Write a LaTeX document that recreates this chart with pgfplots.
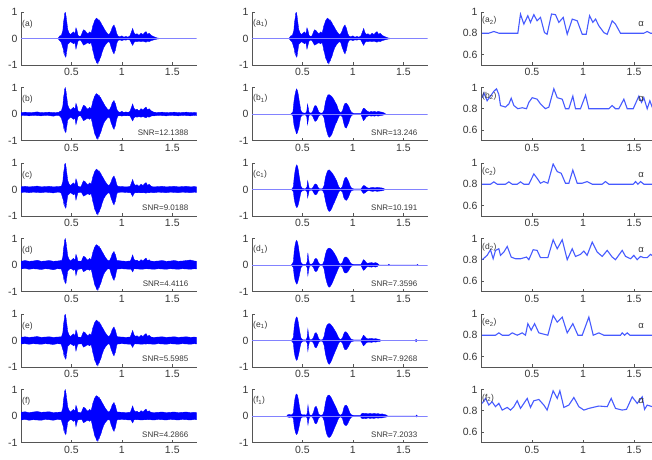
\documentclass[border=0pt]{standalone}
\usepackage{fontspec}
\setmainfont{Liberation Sans}
\usepackage{pgfplots}
\pgfplotsset{compat=1.18}
\usepackage{pgfplotstable}
\usepgfplotslibrary{fillbetween}

\definecolor{sig}{RGB}{0,0,255}
\definecolor{base}{RGB}{130,130,255}
\definecolor{acol}{RGB}{70,90,255}
\definecolor{axc}{RGB}{85,85,85}
\definecolor{txc}{RGB}{55,55,55}

% clean speech envelope (x, upper, lower)
\pgfplotstableread{
x u l
0.370 0.02 -0.02
0.385 0.10 -0.08
0.400 0.12 -0.15
0.415 0.30 -0.35
0.420 0.55 -0.40
0.425 0.70 -0.55
0.430 0.80 -0.50
0.433 0.95 -0.62
0.437 0.90 -0.66
0.440 0.99 -0.70
0.444 0.88 -0.62
0.447 0.85 -0.66
0.451 0.70 -0.52
0.455 0.60 -0.45
0.463 0.35 -0.22
0.475 0.22 -0.18
0.490 0.15 -0.12
0.505 0.20 -0.15
0.520 0.25 -0.20
0.535 0.18 -0.15
0.545 0.40 -0.40
0.555 0.30 -0.25
0.565 0.12 -0.10
0.580 0.08 -0.06
0.595 0.10 -0.08
0.610 0.25 -0.18
0.620 0.33 -0.25
0.635 0.30 -0.22
0.650 0.22 -0.18
0.665 0.18 -0.16
0.680 0.25 -0.20
0.695 0.20 -0.15
0.705 0.35 -0.30
0.712 0.48 -0.45
0.720 0.55 -0.55
0.728 0.66 -0.70
0.735 0.70 -0.78
0.742 0.74 -0.82
0.750 0.77 -0.92
0.756 0.72 -0.88
0.762 0.74 -0.96
0.768 0.68 -0.86
0.775 0.70 -0.85
0.782 0.64 -0.76
0.790 0.62 -0.70
0.797 0.55 -0.62
0.805 0.50 -0.50
0.812 0.46 -0.44
0.820 0.40 -0.35
0.835 0.30 -0.25
0.850 0.22 -0.18
0.865 0.15 -0.12
0.880 0.18 -0.15
0.895 0.30 -0.35
0.903 0.40 -0.42
0.910 0.45 -0.50
0.922 0.51 -0.58
0.928 0.44 -0.50
0.935 0.40 -0.45
0.948 0.20 -0.20
0.960 0.10 -0.08
0.980 0.06 -0.05
1.000 0.10 -0.08
1.020 0.05 -0.05
1.040 0.08 -0.06
1.060 0.05 -0.04
1.080 0.10 -0.06
1.095 0.25 -0.18
1.107 0.38 -0.26
1.120 0.22 -0.15
1.135 0.15 -0.10
1.150 0.18 -0.12
1.170 0.12 -0.10
1.190 0.20 -0.12
1.210 0.15 -0.10
1.225 0.22 -0.12
1.240 0.26 -0.14
1.255 0.15 -0.10
1.270 0.20 -0.12
1.290 0.12 -0.08
1.310 0.08 -0.06
1.330 0.05 -0.04
1.350 0.02 -0.02
1.370 0.01 -0.01
}\cl

% noise bands
\pgfplotstableread{
x u l
0.00 0.05 -0.06
0.04 0.07 -0.05
0.08 0.05 -0.07
0.12 0.06 -0.05
0.16 0.08 -0.06
0.20 0.05 -0.07
0.24 0.06 -0.05
0.28 0.07 -0.06
0.32 0.05 -0.08
0.36 0.06 -0.05
0.40 0.07 -0.06
0.44 0.06 -0.07
0.48 0.05 -0.05
0.52 0.07 -0.06
0.56 0.06 -0.07
0.60 0.05 -0.05
0.64 0.07 -0.06
0.68 0.06 -0.07
0.72 0.08 -0.06
0.76 0.06 -0.05
0.80 0.05 -0.07
0.84 0.07 -0.06
0.88 0.06 -0.05
0.92 0.05 -0.07
0.96 0.07 -0.06
1.00 0.06 -0.05
1.04 0.05 -0.06
1.08 0.06 -0.07
1.12 0.08 -0.05
1.16 0.06 -0.06
1.20 0.05 -0.07
1.24 0.07 -0.05
1.28 0.06 -0.06
1.32 0.05 -0.07
1.36 0.06 -0.05
1.40 0.07 -0.06
1.44 0.05 -0.07
1.48 0.06 -0.05
1.52 0.07 -0.06
1.56 0.05 -0.07
1.60 0.06 -0.05
1.64 0.07 -0.06
1.68 0.05 -0.07
1.72 0.06 -0.05
1.74 0.05 -0.06
}\nb
\pgfplotstableread{
x u l
0.00 0.10 -0.11
0.04 0.12 -0.10
0.08 0.10 -0.12
0.12 0.11 -0.10
0.16 0.13 -0.11
0.20 0.10 -0.12
0.24 0.11 -0.10
0.28 0.12 -0.11
0.32 0.10 -0.13
0.36 0.11 -0.10
0.40 0.12 -0.11
0.44 0.11 -0.12
0.48 0.10 -0.10
0.52 0.12 -0.11
0.56 0.11 -0.12
0.60 0.10 -0.10
0.64 0.12 -0.11
0.68 0.11 -0.12
0.72 0.13 -0.11
0.76 0.11 -0.10
0.80 0.10 -0.12
0.84 0.12 -0.11
0.88 0.11 -0.10
0.92 0.10 -0.12
0.96 0.12 -0.11
1.00 0.11 -0.10
1.04 0.10 -0.11
1.08 0.11 -0.12
1.12 0.13 -0.10
1.16 0.11 -0.11
1.20 0.10 -0.12
1.24 0.12 -0.10
1.28 0.11 -0.11
1.32 0.10 -0.12
1.36 0.11 -0.10
1.40 0.12 -0.11
1.44 0.10 -0.12
1.48 0.11 -0.10
1.52 0.12 -0.11
1.56 0.10 -0.12
1.60 0.11 -0.10
1.64 0.12 -0.11
1.68 0.10 -0.12
1.72 0.11 -0.10
1.74 0.10 -0.11
}\nc
\pgfplotstableread{
x u l
0.00 0.14 -0.15
0.04 0.17 -0.13
0.08 0.14 -0.16
0.12 0.15 -0.14
0.16 0.18 -0.15
0.20 0.14 -0.17
0.24 0.15 -0.14
0.28 0.17 -0.15
0.32 0.14 -0.18
0.36 0.15 -0.14
0.40 0.17 -0.15
0.44 0.15 -0.16
0.48 0.14 -0.14
0.52 0.17 -0.15
0.56 0.15 -0.17
0.60 0.14 -0.14
0.64 0.17 -0.15
0.68 0.15 -0.16
0.72 0.18 -0.15
0.76 0.15 -0.14
0.80 0.14 -0.16
0.84 0.17 -0.15
0.88 0.15 -0.14
0.92 0.14 -0.16
0.96 0.17 -0.15
1.00 0.15 -0.14
1.04 0.14 -0.15
1.08 0.15 -0.16
1.12 0.18 -0.14
1.16 0.15 -0.15
1.20 0.14 -0.16
1.24 0.17 -0.14
1.28 0.15 -0.15
1.32 0.14 -0.16
1.36 0.15 -0.14
1.40 0.17 -0.15
1.44 0.14 -0.16
1.48 0.15 -0.14
1.52 0.17 -0.15
1.56 0.14 -0.16
1.60 0.15 -0.14
1.64 0.17 -0.15
1.68 0.19 -0.16
1.72 0.15 -0.14
1.74 0.14 -0.15
}\nd
\pgfplotstableread{
x u l
0.00 0.12 -0.13
0.04 0.14 -0.12
0.08 0.12 -0.14
0.12 0.13 -0.12
0.16 0.15 -0.13
0.20 0.12 -0.14
0.24 0.13 -0.12
0.28 0.14 -0.13
0.32 0.12 -0.15
0.36 0.13 -0.12
0.40 0.14 -0.13
0.44 0.13 -0.14
0.48 0.12 -0.12
0.52 0.14 -0.13
0.56 0.13 -0.14
0.60 0.12 -0.12
0.64 0.14 -0.13
0.68 0.13 -0.14
0.72 0.15 -0.13
0.76 0.13 -0.12
0.80 0.12 -0.14
0.84 0.14 -0.13
0.88 0.13 -0.12
0.92 0.12 -0.14
0.96 0.14 -0.13
1.00 0.13 -0.12
1.04 0.12 -0.13
1.08 0.13 -0.14
1.12 0.15 -0.12
1.16 0.13 -0.13
1.20 0.12 -0.14
1.24 0.14 -0.12
1.28 0.13 -0.13
1.32 0.12 -0.14
1.36 0.13 -0.12
1.40 0.14 -0.13
1.44 0.12 -0.14
1.48 0.13 -0.12
1.52 0.14 -0.13
1.56 0.12 -0.14
1.60 0.13 -0.12
1.64 0.14 -0.13
1.68 0.12 -0.14
1.72 0.13 -0.12
1.74 0.12 -0.13
}\ne
\pgfplotstableread{
x u l
0.00 0.14 -0.15
0.04 0.16 -0.13
0.08 0.13 -0.16
0.12 0.15 -0.14
0.16 0.17 -0.15
0.20 0.14 -0.16
0.24 0.15 -0.13
0.28 0.16 -0.14
0.32 0.13 -0.16
0.36 0.14 -0.13
0.40 0.15 -0.14
0.44 0.14 -0.15
0.48 0.13 -0.13
0.52 0.15 -0.14
0.56 0.14 -0.15
0.60 0.13 -0.13
0.64 0.15 -0.14
0.68 0.14 -0.15
0.72 0.16 -0.14
0.76 0.14 -0.13
0.80 0.13 -0.15
0.84 0.15 -0.14
0.88 0.14 -0.13
0.92 0.13 -0.15
0.96 0.15 -0.14
1.00 0.14 -0.13
1.04 0.13 -0.14
1.08 0.14 -0.15
1.12 0.16 -0.13
1.16 0.14 -0.14
1.20 0.13 -0.15
1.24 0.15 -0.13
1.28 0.14 -0.14
1.32 0.13 -0.15
1.36 0.14 -0.13
1.40 0.15 -0.14
1.44 0.13 -0.15
1.48 0.14 -0.13
1.52 0.15 -0.14
1.56 0.13 -0.15
1.60 0.14 -0.13
1.64 0.15 -0.14
1.68 0.13 -0.15
1.72 0.14 -0.13
1.74 0.13 -0.14
}\nf

% denoised envelopes
\pgfplotstableread{
x u l
0.385 0.00 0.00
0.395 0.04 -0.04
0.405 0.06 -0.05
0.416 0.47 -0.40
0.425 0.70 -0.55
0.433 0.84 -0.64
0.441 0.95 -0.75
0.449 0.90 -0.72
0.458 0.75 -0.60
0.466 0.55 -0.50
0.475 0.35 -0.28
0.483 0.15 -0.12
0.495 0.06 -0.05
0.510 0.04 -0.04
0.530 0.03 -0.03
0.543 0.10 -0.10
0.550 0.37 -0.40
0.557 0.25 -0.25
0.565 0.06 -0.05
0.585 0.03 -0.03
0.600 0.08 -0.07
0.612 0.22 -0.18
0.625 0.32 -0.28
0.638 0.30 -0.25
0.650 0.20 -0.18
0.662 0.08 -0.07
0.680 0.03 -0.03
0.700 0.04 -0.04
0.715 0.15 -0.15
0.728 0.45 -0.45
0.741 0.62 -0.65
0.753 0.72 -0.80
0.765 0.73 -0.88
0.777 0.70 -0.84
0.790 0.66 -0.78
0.802 0.60 -0.65
0.815 0.52 -0.52
0.828 0.42 -0.38
0.840 0.35 -0.30
0.852 0.20 -0.18
0.864 0.10 -0.08
0.880 0.04 -0.04
0.897 0.12 -0.12
0.910 0.30 -0.35
0.922 0.40 -0.50
0.935 0.41 -0.53
0.948 0.35 -0.42
0.960 0.28 -0.32
0.973 0.15 -0.15
0.987 0.06 -0.05
1.010 0.02 -0.02
1.080 0.02 -0.02
1.092 0.12 -0.12
1.105 0.22 -0.25
1.118 0.20 -0.20
1.130 0.15 -0.12
1.146 0.10 -0.08
1.165 0.07 -0.06
1.180 0.10 -0.08
1.196 0.08 -0.07
1.215 0.10 -0.08
1.235 0.07 -0.06
1.250 0.10 -0.08
1.270 0.08 -0.06
1.290 0.07 -0.05
1.310 0.04 -0.03
1.325 0.00 0.00
}\db
\pgfplotstableread{
x u l
0.390 0.00 0.00
0.400 0.04 -0.04
0.410 0.10 -0.08
0.418 0.45 -0.35
0.427 0.70 -0.52
0.435 0.85 -0.62
0.443 0.93 -0.68
0.451 0.88 -0.66
0.460 0.72 -0.55
0.468 0.50 -0.42
0.477 0.30 -0.25
0.485 0.12 -0.10
0.500 0.04 -0.04
0.530 0.02 -0.02
0.545 0.10 -0.08
0.552 0.33 -0.31
0.559 0.20 -0.18
0.567 0.05 -0.04
0.590 0.02 -0.02
0.605 0.08 -0.07
0.618 0.18 -0.17
0.630 0.21 -0.20
0.643 0.18 -0.17
0.655 0.08 -0.07
0.670 0.02 -0.02
0.700 0.03 -0.03
0.715 0.15 -0.15
0.728 0.45 -0.42
0.741 0.62 -0.62
0.753 0.72 -0.76
0.765 0.74 -0.83
0.777 0.70 -0.80
0.790 0.64 -0.72
0.802 0.58 -0.60
0.815 0.50 -0.50
0.828 0.40 -0.38
0.840 0.32 -0.28
0.852 0.18 -0.16
0.864 0.08 -0.07
0.880 0.03 -0.03
0.897 0.12 -0.10
0.910 0.32 -0.30
0.922 0.44 -0.38
0.935 0.46 -0.41
0.948 0.38 -0.35
0.960 0.28 -0.26
0.973 0.14 -0.12
0.987 0.05 -0.04
1.010 0.02 -0.02
1.080 0.02 -0.02
1.092 0.08 -0.08
1.105 0.15 -0.15
1.118 0.14 -0.13
1.130 0.10 -0.09
1.146 0.06 -0.05
1.165 0.05 -0.04
1.180 0.07 -0.06
1.200 0.08 -0.07
1.220 0.06 -0.05
1.240 0.08 -0.07
1.260 0.07 -0.06
1.285 0.06 -0.05
1.305 0.04 -0.03
1.320 0.00 0.00
}\dc
\pgfplotstableread{
x u l
0.390 0.00 0.00
0.400 0.05 -0.05
0.410 0.12 -0.10
0.418 0.50 -0.40
0.427 0.75 -0.58
0.435 0.88 -0.66
0.443 0.93 -0.72
0.451 0.86 -0.68
0.460 0.70 -0.55
0.468 0.48 -0.42
0.477 0.28 -0.25
0.485 0.10 -0.10
0.500 0.03 -0.03
0.535 0.02 -0.02
0.547 0.12 -0.10
0.554 0.46 -0.40
0.561 0.22 -0.20
0.570 0.04 -0.04
0.595 0.03 -0.03
0.610 0.10 -0.10
0.622 0.22 -0.22
0.635 0.25 -0.25
0.648 0.20 -0.20
0.660 0.08 -0.08
0.675 0.02 -0.02
0.700 0.03 -0.03
0.715 0.15 -0.15
0.728 0.40 -0.45
0.741 0.56 -0.65
0.753 0.62 -0.78
0.765 0.64 -0.84
0.777 0.62 -0.80
0.790 0.58 -0.72
0.802 0.52 -0.62
0.815 0.45 -0.50
0.828 0.36 -0.38
0.840 0.28 -0.28
0.852 0.16 -0.16
0.864 0.07 -0.07
0.880 0.03 -0.03
0.897 0.10 -0.10
0.910 0.24 -0.24
0.922 0.30 -0.30
0.935 0.30 -0.30
0.948 0.26 -0.26
0.960 0.20 -0.20
0.973 0.10 -0.10
0.987 0.04 -0.04
1.010 0.02 -0.02
1.080 0.02 -0.02
1.092 0.10 -0.10
1.105 0.20 -0.20
1.118 0.17 -0.17
1.130 0.10 -0.10
1.146 0.06 -0.06
1.165 0.08 -0.07
1.185 0.09 -0.08
1.205 0.07 -0.06
1.225 0.09 -0.08
1.245 0.06 -0.05
1.260 0.00 0.00
1.350 0.00 0.00
1.357 0.03 -0.03
1.365 0.00 0.00
1.635 0.00 0.00
1.641 0.02 -0.02
1.647 0.00 0.00
}\dd
\pgfplotstableread{
x u l
0.390 0.00 0.00
0.400 0.05 -0.05
0.410 0.12 -0.10
0.418 0.48 -0.42
0.427 0.72 -0.60
0.435 0.84 -0.70
0.443 0.89 -0.75
0.451 0.84 -0.70
0.460 0.66 -0.56
0.468 0.46 -0.42
0.477 0.26 -0.24
0.485 0.10 -0.10
0.500 0.03 -0.03
0.535 0.02 -0.02
0.547 0.12 -0.10
0.554 0.43 -0.40
0.561 0.22 -0.20
0.570 0.04 -0.04
0.595 0.03 -0.03
0.610 0.12 -0.10
0.622 0.26 -0.24
0.635 0.30 -0.28
0.648 0.22 -0.20
0.660 0.08 -0.08
0.675 0.02 -0.02
0.700 0.03 -0.03
0.715 0.16 -0.18
0.728 0.42 -0.50
0.741 0.56 -0.70
0.753 0.62 -0.84
0.765 0.64 -0.90
0.777 0.62 -0.84
0.790 0.56 -0.74
0.802 0.50 -0.62
0.815 0.42 -0.50
0.828 0.34 -0.38
0.840 0.26 -0.28
0.852 0.15 -0.16
0.864 0.07 -0.07
0.880 0.03 -0.03
0.897 0.10 -0.10
0.910 0.25 -0.26
0.922 0.33 -0.35
0.935 0.32 -0.34
0.948 0.26 -0.28
0.960 0.18 -0.20
0.973 0.10 -0.10
0.987 0.04 -0.04
1.010 0.02 -0.02
1.080 0.02 -0.02
1.092 0.10 -0.10
1.105 0.20 -0.20
1.118 0.16 -0.16
1.130 0.10 -0.10
1.146 0.06 -0.06
1.165 0.07 -0.06
1.185 0.08 -0.07
1.205 0.06 -0.05
1.225 0.07 -0.06
1.250 0.05 -0.04
1.270 0.03 -0.03
1.280 0.00 0.00
1.620 0.00 0.00
1.627 0.05 -0.05
1.634 0.00 0.00
}\de
\pgfplotstableread{
x u l
0.345 0.00 0.00
0.355 0.05 -0.04
0.370 0.06 -0.05
0.385 0.04 -0.04
0.400 0.06 -0.05
0.410 0.12 -0.10
0.418 0.45 -0.38
0.427 0.68 -0.56
0.435 0.80 -0.66
0.443 0.83 -0.70
0.451 0.78 -0.65
0.460 0.62 -0.52
0.468 0.42 -0.38
0.477 0.22 -0.20
0.485 0.08 -0.08
0.500 0.04 -0.04
0.520 0.05 -0.04
0.540 0.03 -0.03
0.548 0.12 -0.10
0.555 0.41 -0.33
0.562 0.20 -0.16
0.570 0.04 -0.04
0.595 0.03 -0.03
0.610 0.14 -0.12
0.622 0.32 -0.26
0.635 0.37 -0.30
0.648 0.26 -0.22
0.660 0.08 -0.08
0.675 0.03 -0.03
0.700 0.04 -0.04
0.715 0.18 -0.18
0.728 0.50 -0.48
0.741 0.70 -0.68
0.753 0.78 -0.78
0.765 0.79 -0.81
0.777 0.74 -0.78
0.790 0.66 -0.70
0.802 0.56 -0.60
0.815 0.46 -0.48
0.828 0.36 -0.36
0.840 0.26 -0.26
0.852 0.14 -0.14
0.864 0.06 -0.06
0.880 0.03 -0.03
0.897 0.10 -0.10
0.910 0.30 -0.28
0.922 0.40 -0.35
0.935 0.41 -0.36
0.948 0.34 -0.30
0.960 0.22 -0.20
0.973 0.10 -0.10
0.987 0.04 -0.04
1.010 0.02 -0.02
1.075 0.02 -0.02
1.085 0.08 -0.08
1.100 0.11 -0.10
1.115 0.09 -0.09
1.130 0.10 -0.10
1.150 0.08 -0.07
1.170 0.10 -0.09
1.190 0.08 -0.08
1.210 0.10 -0.09
1.230 0.08 -0.07
1.250 0.09 -0.08
1.270 0.07 -0.07
1.290 0.08 -0.07
1.310 0.06 -0.05
1.330 0.04 -0.04
1.345 0.00 0.00
1.625 0.00 0.00
1.632 0.04 -0.04
1.639 0.00 0.00
}\df

% alpha curves
\pgfplotstableread{
x y
0.012 0.800
0.077 0.800
0.126 0.816
0.175 0.800
0.361 0.800
0.387 0.981
0.420 0.886
0.459 0.965
0.485 0.902
0.518 0.975
0.550 0.917
0.583 0.949
0.622 0.806
0.648 0.790
0.691 0.981
0.730 0.975
0.763 0.902
0.806 0.949
0.845 0.790
0.894 0.933
0.943 0.917
0.992 0.790
1.031 0.790
1.064 0.965
1.096 0.902
1.123 0.933
1.155 0.870
1.204 0.806
1.237 0.790
1.286 0.917
1.318 0.886
1.367 0.800
1.596 0.800
1.629 0.816
1.662 0.800
1.690 0.800
}\aa
\pgfplotstableread{
x y
0.012 0.904
0.028 0.949
0.060 0.875
0.093 0.919
0.126 0.964
0.152 0.988
0.175 0.934
0.191 0.830
0.240 0.815
0.273 0.845
0.296 0.899
0.322 0.830
0.361 0.800
0.404 0.809
0.446 0.800
0.469 0.860
0.502 0.904
0.550 0.890
0.583 0.845
0.632 0.800
0.665 0.815
0.714 0.988
0.747 0.904
0.796 0.890
0.828 0.800
0.861 0.800
0.900 0.919
0.926 0.800
0.975 0.800
1.025 0.928
1.057 0.800
1.253 0.800
1.286 0.830
1.318 0.800
1.351 0.800
1.400 0.890
1.433 0.800
1.492 0.800
1.547 0.919
1.573 0.860
1.596 0.904
1.629 0.800
1.655 0.875
1.678 0.815
1.690 0.830
}\ab
\pgfplotstableread{
x y
0.012 0.800
0.093 0.800
0.126 0.822
0.159 0.800
0.240 0.800
0.273 0.822
0.306 0.800
0.355 0.800
0.387 0.822
0.420 0.800
0.469 0.800
0.518 0.897
0.550 0.856
0.583 0.809
0.616 0.825
0.655 0.809
0.707 0.991
0.747 0.919
0.786 0.903
0.828 0.809
0.861 0.809
0.900 0.934
0.943 0.809
0.992 0.809
1.040 0.825
1.090 0.800
1.188 0.800
1.220 0.825
1.253 0.800
1.492 0.800
1.515 0.825
1.538 0.800
1.564 0.825
1.596 0.800
1.690 0.800
}\ac
\pgfplotstableread{
x y
0.012 0.800
0.060 0.841
0.093 0.894
0.119 0.809
0.142 0.888
0.175 0.903
0.191 0.841
0.224 0.872
0.257 0.925
0.296 0.825
0.338 0.809
0.387 0.809
0.446 0.825
0.469 0.800
0.511 0.894
0.550 0.888
0.583 0.819
0.655 0.819
0.707 0.988
0.747 0.903
0.796 0.988
0.845 0.800
0.894 0.903
0.926 0.831
0.975 0.850
1.008 0.881
1.040 0.841
1.090 0.966
1.139 0.872
1.188 0.831
1.237 0.888
1.286 0.825
1.318 0.800
1.384 0.888
1.417 0.831
1.466 0.809
1.498 0.841
1.531 0.800
1.564 0.831
1.596 0.819
1.629 0.819
1.662 0.850
1.690 0.831
}\ad
\pgfplotstableread{
x y
0.012 0.800
0.142 0.800
0.175 0.822
0.208 0.800
0.273 0.800
0.306 0.822
0.355 0.800
0.404 0.822
0.436 0.800
0.459 0.909
0.492 0.847
0.525 0.909
0.567 0.822
0.655 0.800
0.707 0.986
0.747 0.924
0.796 0.971
0.845 0.822
0.900 0.909
0.950 0.800
0.992 0.800
1.057 0.971
1.100 0.800
1.155 0.822
1.204 0.800
1.367 0.800
1.384 0.822
1.407 0.800
1.433 0.822
1.459 0.800
1.690 0.800
}\ae
\pgfplotstableread{
x y
0.012 0.869
0.044 0.916
0.077 0.853
0.109 0.884
0.142 0.838
0.175 0.869
0.208 0.806
0.257 0.831
0.289 0.806
0.322 0.838
0.355 0.894
0.387 0.822
0.453 0.916
0.485 0.831
0.518 0.894
0.567 0.906
0.616 0.853
0.648 0.806
0.707 0.988
0.747 0.916
0.773 0.988
0.812 0.831
0.861 0.853
0.910 0.925
0.959 0.838
1.008 0.806
1.057 0.822
1.155 0.844
1.237 0.838
1.276 0.916
1.318 0.822
1.384 0.806
1.426 0.813
1.482 0.931
1.531 0.869
1.580 0.931
1.603 0.813
1.629 0.853
1.678 0.838
1.690 0.831
}\af

\newcommand{\env}[2]{%
  \addplot[name path=#2u, draw=none, forget plot] table[x=x,y=u]{#1};
  \addplot[name path=#2l, draw=none, forget plot] table[x=x,y=l]{#1};
  \addplot[sig, draw=sig, line width=0.35pt] fill between[of=#2u and #2l];
}
\newcommand{\baseln}{\addplot[base, line width=0.9pt] coordinates {(0,0) (1.74,0)};}

\tikzset{
  lab/.style={anchor=west, inner sep=1pt, font=\fontsize{8.5}{9}\selectfont, text=txc},
  snr/.style={anchor=east, inner sep=0pt, font=\fontsize{8}{8}\selectfont, text=txc},
  alab/.style={font=\fontsize{9.5}{9}\selectfont, text=txc},
}
\pgfplotsset{
  panel/.style={scale only axis, width=175.5pt, height=53pt, anchor=south west,
    xmin=0, xmax=1.74,
    axis x line=bottom, axis y line=left,
    axis line style={-, axc, line width=0.8pt},
    x axis line style={-}, y axis line style={-},
    tick align=inside, major tick length=3pt,
    tick style={axc, line width=0.7pt},
    xtick={0.5,1,1.5}, xticklabels={0.5,1,1.5},
    ticklabel style={font=\fontsize{10.5}{11}\selectfont, text=txc},
    /pgf/number format/assume math mode=true},
  wave/.style={panel, ymin=-1, ymax=1, ytick={-1,0,1}, yticklabels={-1,0,1}},
  alph/.style={panel, width=171.4pt, xmax=1.68, ymin=0.5, ymax=1,
    ytick={0.6,0.8,1}, yticklabels={0.6,0.8,1}},
}

\begin{document}
\begin{tikzpicture}
% ---------- column 1 ----------
\begin{axis}[wave, at={(21pt,-65pt)}]
  \baseln
  \env{\cl}{ca}
  \node[lab] at (rel axis cs:0,0.77) {(a)};
\end{axis}
\begin{axis}[wave, at={(21pt,-140.5pt)}]
  \env{\nb}{nb}
  \env{\cl}{cb}
  \node[lab] at (rel axis cs:0,0.77) {(b)};
  \node[snr] at (axis cs:1.66,-0.69) {SNR=12.1388};
\end{axis}
\begin{axis}[wave, at={(21pt,-216pt)}]
  \env{\nc}{nc}
  \env{\cl}{cc}
  \node[lab] at (rel axis cs:0,0.77) {(c)};
  \node[snr] at (axis cs:1.66,-0.69) {SNR=9.0188};
\end{axis}
\begin{axis}[wave, at={(21pt,-291.5pt)}]
  \env{\nd}{nd}
  \env{\cl}{cd}
  \node[lab] at (rel axis cs:0,0.77) {(d)};
  \node[snr] at (axis cs:1.66,-0.69) {SNR=4.4116};
\end{axis}
\begin{axis}[wave, at={(21pt,-367pt)}]
  \env{\ne}{ne}
  \env{\cl}{ce}
  \node[lab] at (rel axis cs:0,0.77) {(e)};
  \node[snr] at (axis cs:1.66,-0.69) {SNR=5.5985};
\end{axis}
\begin{axis}[wave, at={(21pt,-442.5pt)}]
  \env{\nf}{nf}
  \env{\cl}{cf}
  \node[lab] at (rel axis cs:0,0.77) {(f)};
  \node[snr] at (axis cs:1.66,-0.69) {SNR=4.2866};
\end{axis}
% ---------- column 2 ----------
\begin{axis}[wave, at={(252pt,-65pt)}]
  \baseln
  \env{\cl}{da}
  \node[lab] at (rel axis cs:0,0.79) {(a\textsubscript{1})};
\end{axis}
\begin{axis}[wave, at={(252pt,-140.5pt)}]
  \baseln
  \env{\db}{db}
  \node[lab] at (rel axis cs:0,0.79) {(b\textsubscript{1})};
  \node[snr] at (axis cs:1.64,-0.69) {SNR=13.246};
\end{axis}
\begin{axis}[wave, at={(252pt,-216pt)}]
  \baseln
  \env{\dc}{dc}
  \node[lab] at (rel axis cs:0,0.79) {(c\textsubscript{1})};
  \node[snr] at (axis cs:1.64,-0.69) {SNR=10.191};
\end{axis}
\begin{axis}[wave, at={(252pt,-291.5pt)}]
  \baseln
  \env{\dd}{dd}
  \node[lab] at (rel axis cs:0,0.79) {(d\textsubscript{1})};
  \node[snr] at (axis cs:1.64,-0.69) {SNR=7.3596};
\end{axis}
\begin{axis}[wave, at={(252pt,-367pt)}]
  \baseln
  \env{\de}{de}
  \node[lab] at (rel axis cs:0,0.79) {(e\textsubscript{1})};
  \node[snr] at (axis cs:1.64,-0.69) {SNR=7.9268};
\end{axis}
\begin{axis}[wave, at={(252pt,-442.5pt)}]
  \baseln
  \env{\df}{df}
  \node[lab] at (rel axis cs:0,0.79) {(f\textsubscript{1})};
  \node[snr] at (axis cs:1.64,-0.69) {SNR=7.2033};
\end{axis}
% ---------- column 3 ----------
\begin{axis}[alph, at={(481pt,-65pt)}]
  \addplot[acol, line width=1.1pt] table[x=x,y=y]{\aa};
  \node[lab] at (rel axis cs:0,0.84) {(a\textsubscript{2})};
  \node[alab] at (axis cs:1.57,0.89) {α};
\end{axis}
\begin{axis}[alph, at={(481pt,-140.5pt)}]
  \addplot[acol, line width=1.1pt] table[x=x,y=y]{\ab};
  \node[lab] at (rel axis cs:0,0.84) {(b\textsubscript{2})};
  \node[alab] at (axis cs:1.57,0.89) {α};
\end{axis}
\begin{axis}[alph, at={(481pt,-216pt)}]
  \addplot[acol, line width=1.1pt] table[x=x,y=y]{\ac};
  \node[lab] at (rel axis cs:0,0.84) {(c\textsubscript{2})};
  \node[alab] at (axis cs:1.57,0.89) {α};
\end{axis}
\begin{axis}[alph, at={(481pt,-291.5pt)}]
  \addplot[acol, line width=1.1pt] table[x=x,y=y]{\ad};
  \node[lab] at (rel axis cs:0,0.84) {(d\textsubscript{2})};
  \node[alab] at (axis cs:1.57,0.89) {α};
\end{axis}
\begin{axis}[alph, at={(481pt,-367pt)}]
  \addplot[acol, line width=1.1pt] table[x=x,y=y]{\ae};
  \node[lab] at (rel axis cs:0,0.84) {(e\textsubscript{2})};
  \node[alab] at (axis cs:1.57,0.89) {α};
\end{axis}
\begin{axis}[alph, at={(481pt,-442.5pt)}]
  \addplot[acol, line width=1.1pt] table[x=x,y=y]{\af};
  \node[lab] at (rel axis cs:0,0.84) {(f\textsubscript{2})};
  \node[alab] at (axis cs:1.57,0.89) {α};
\end{axis}
\pgfresetboundingbox
\path[use as bounding box] (0,0) rectangle (652pt,-459pt);
\end{tikzpicture}
\end{document}
